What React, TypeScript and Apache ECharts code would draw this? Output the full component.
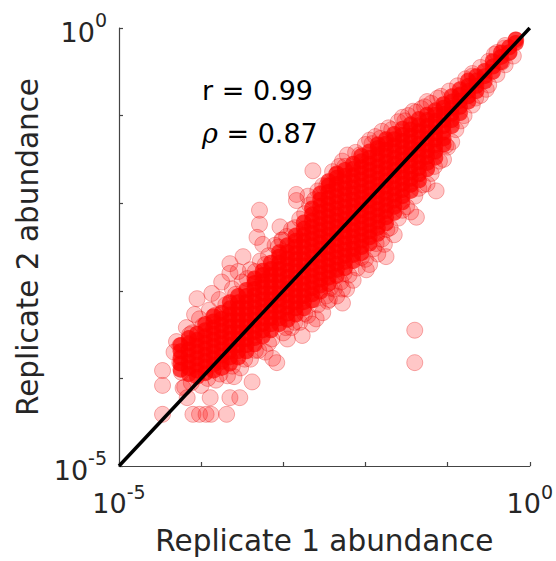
import React, { useEffect, useRef } from "react";
import * as echarts from "echarts";

// Axis range (abundances) and decade tick labels
const axisMin = 1e-5;
const axisMax = 1;
const labeledExponents = [-5, 0];

// Statistics printed in the plot
const pearsonR = "0.99";
const spearmanRho = "0.87";

// Dense core of the cloud as log10 values:
// one Replicate-1 position per column, with the Replicate-2 values in that column
const coreRep1Log: number[] = [
  -4.25, -4.15, -4.05, -3.95, -3.85, -3.75, -3.65, -3.55, -3.45, -3.35, -3.25, -3.15, -3.05, -2.95,
  -2.85, -2.75, -2.65, -2.55, -2.45, -2.35, -2.25, -2.15, -2.05, -1.95, -1.85, -1.75, -1.65, -1.55,
  -1.45, -1.35, -1.25, -1.15, -1.05, -0.95, -0.85, -0.75, -0.65, -0.55, -0.45, -0.35, -0.25, -0.17,
];
const coreRep2Log: number[][] = [
  [-3.9, -3.83, -3.76, -3.69, -3.62],
  [-3.95, -3.88, -3.81, -3.74, -3.67, -3.6, -3.54],
  [-3.98, -3.91, -3.84, -3.77, -3.7, -3.63, -3.56, -3.49],
  [-3.94, -3.87, -3.8, -3.73, -3.66, -3.59, -3.52, -3.45, -3.38],
  [-3.91, -3.84, -3.77, -3.7, -3.63, -3.56, -3.49, -3.42, -3.35, -3.29],
  [-3.88, -3.81, -3.74, -3.67, -3.6, -3.53, -3.46, -3.39, -3.32, -3.25],
  [-3.83, -3.76, -3.69, -3.62, -3.55, -3.48, -3.41, -3.34, -3.27, -3.2, -3.13],
  [-3.76, -3.69, -3.62, -3.55, -3.48, -3.41, -3.34, -3.27, -3.2, -3.13, -3.06],
  [-3.69, -3.62, -3.55, -3.48, -3.41, -3.34, -3.27, -3.2, -3.13, -3.06, -2.99],
  [-3.61, -3.54, -3.47, -3.4, -3.33, -3.26, -3.19, -3.12, -3.05, -2.98, -2.91, -2.86],
  [-3.52, -3.45, -3.38, -3.31, -3.24, -3.17, -3.1, -3.03, -2.96, -2.89, -2.82, -2.77],
  [-3.45, -3.38, -3.31, -3.24, -3.17, -3.1, -3.03, -2.96, -2.89, -2.82, -2.75, -2.68],
  [-3.38, -3.31, -3.24, -3.17, -3.1, -3.03, -2.96, -2.89, -2.82, -2.75, -2.68, -2.61, -2.56],
  [-3.33, -3.26, -3.19, -3.12, -3.05, -2.98, -2.91, -2.84, -2.77, -2.7, -2.63, -2.56, -2.48],
  [-3.27, -3.2, -3.13, -3.06, -2.99, -2.92, -2.85, -2.78, -2.71, -2.64, -2.57, -2.5, -2.43, -2.37],
  [-3.2, -3.13, -3.06, -2.99, -2.92, -2.85, -2.78, -2.71, -2.64, -2.57, -2.5, -2.43, -2.36, -2.29, -2.22],
  [-3.11, -3.04, -2.97, -2.9, -2.83, -2.76, -2.69, -2.62, -2.55, -2.48, -2.41, -2.34, -2.27, -2.2, -2.13, -2.06],
  [-3.01, -2.94, -2.87, -2.8, -2.73, -2.66, -2.59, -2.52, -2.45, -2.38, -2.31, -2.24, -2.17, -2.1, -2.03, -1.96, -1.89],
  [-2.92, -2.85, -2.78, -2.71, -2.64, -2.57, -2.5, -2.43, -2.36, -2.29, -2.22, -2.15, -2.08, -2.01, -1.94, -1.87, -1.8, -1.75],
  [-2.83, -2.76, -2.69, -2.62, -2.55, -2.48, -2.41, -2.34, -2.27, -2.2, -2.13, -2.06, -1.99, -1.92, -1.85, -1.78, -1.71, -1.66],
  [-2.74, -2.67, -2.6, -2.53, -2.46, -2.39, -2.32, -2.25, -2.18, -2.11, -2.04, -1.97, -1.9, -1.83, -1.76, -1.69, -1.62],
  [-2.66, -2.59, -2.52, -2.45, -2.38, -2.31, -2.24, -2.17, -2.1, -2.03, -1.96, -1.89, -1.82, -1.75, -1.68, -1.61, -1.55],
  [-2.57, -2.5, -2.43, -2.36, -2.29, -2.22, -2.15, -2.08, -2.01, -1.94, -1.87, -1.8, -1.73, -1.66, -1.59, -1.52, -1.46],
  [-2.46, -2.39, -2.32, -2.25, -2.18, -2.11, -2.04, -1.97, -1.9, -1.83, -1.76, -1.69, -1.62, -1.55, -1.48, -1.41],
  [-2.35, -2.28, -2.21, -2.14, -2.07, -2.0, -1.93, -1.86, -1.79, -1.72, -1.65, -1.58, -1.51, -1.44, -1.37, -1.33],
  [-2.23, -2.16, -2.09, -2.02, -1.95, -1.88, -1.81, -1.74, -1.67, -1.6, -1.53, -1.46, -1.39, -1.32, -1.27],
  [-2.11, -2.04, -1.97, -1.9, -1.83, -1.76, -1.69, -1.62, -1.55, -1.48, -1.41, -1.34, -1.27, -1.21],
  [-1.99, -1.92, -1.85, -1.78, -1.71, -1.64, -1.57, -1.5, -1.43, -1.36, -1.29, -1.22, -1.15],
  [-1.86, -1.79, -1.72, -1.65, -1.58, -1.51, -1.44, -1.37, -1.3, -1.23, -1.16, -1.1],
  [-1.74, -1.67, -1.6, -1.53, -1.46, -1.39, -1.32, -1.25, -1.18, -1.11, -1.04],
  [-1.61, -1.54, -1.47, -1.4, -1.33, -1.26, -1.19, -1.12, -1.05, -0.99],
  [-1.48, -1.41, -1.34, -1.27, -1.2, -1.13, -1.06, -0.99, -0.94],
  [-1.33, -1.26, -1.19, -1.12, -1.05, -0.98, -0.91, -0.87],
  [-1.12, -1.05, -0.98, -0.91, -0.84, -0.78],
  [-0.97, -0.9, -0.83, -0.76, -0.7],
  [-0.84, -0.78, -0.72, -0.66, -0.6],
  [-0.72, -0.66, -0.6, -0.55],
  [-0.61, -0.55, -0.49],
  [-0.5, -0.44, -0.38],
  [-0.39, -0.33, -0.28],
  [-0.28, -0.22],
  [-0.17, -0.13],
];

// Sparse points around the core and outliers, log10 values
const edgeRep1Log: number[] = [
  -4.47, -4.47, -4.47, -4.24, -4.22, -4.17, -4.26, -4.1, -4.02, -3.94, -3.88, -3.69, -3.89, -3.65, -3.53, -3.38,
  -4.05, -3.87, -4.08, -3.65, -3.49, -3.65, -3.29, -3.29, -3.32, -3.25, -3.04, -2.84, -3.01, -2.64, -2.84,
  -2.6, -2.77, -2.46, -2.44, -2.28, -2.28, -3.13, -3.08, -2.23, -1.99, -1.77, -1.75, -1.38, -1.14, -1.4, -1.4,
  -4.11, -4.26,
  -4.3, -4.18, -4.02, -3.9, -3.78, -3.62, -3.5, -3.4, -3.28, -3.18, -3.02, -2.9, -2.8, -2.68, -2.52, -2.4,
  -2.28, -2.12, -2.0, -1.88, -1.72, -1.6, -1.48, -1.32, -1.2, -1.08, -0.98, -0.88, -0.78, -0.7, -0.6, -0.5, -0.4, -0.3,
  -4.2, -4.0, -3.82, -3.68, -3.52, -3.4, -3.3, -3.18, -3.0, -2.9, -2.8, -2.7, -2.58, -2.48, -2.38, -2.3, -2.2,
  -2.1, -2.0, -1.9, -1.8, -1.7, -1.6, -1.5, -1.4, -1.3, -1.2, -1.1, -1.0, -0.9, -0.8, -0.7, -0.6, -0.5, -0.4, -0.3, -0.2,
  -0.7, -0.53, -0.34, -0.25, -0.17, -0.43, -0.31, -0.86,
  -3.75, -3.55, -3.1, -2.7, -2.58, -2.32, -2.22, -1.95, -1.8, -1.55, -1.42, -1.25,
  -3.6, -3.22, -2.95, -2.65, -2.52, -2.35, -2.15, -1.95, -1.85, -1.65, -1.45, -1.25, -1.05, -0.95,
  -4.33, -4.14, -3.98, -3.83, -3.7, -3.58, -3.44, -3.34, -3.22, -3.06, -2.96, -2.86, -2.74, -2.62, -2.47,
  -2.36, -2.25, -2.07, -1.92, -1.82, -1.68, -1.52, -1.38, -1.28, -1.12,
  -4.12, -3.92, -3.77, -3.62, -3.47, -3.34, -3.14, -2.97, -2.86, -2.74, -2.63, -2.43, -2.26, -2.05, -1.87,
  -1.74, -1.55, -1.35, -1.16, -1.02, -0.84, -0.66,
];
const edgeRep2Log: number[] = [
  -3.91, -4.08, -4.41, -3.93, -4.11, -4.22, -3.63, -4.41, -4.41, -4.41, -4.41, -4.41, -4.22, -4.22, -4.22, -4.04,
  -3.09, -3.03, -3.27, -2.69, -2.61, -2.8, -2.08, -2.24, -2.39, -2.47, -2.27, -1.97, -2.42, -1.63, -1.9,
  -3.32, -3.51, -3.12, -3.1, -2.98, -3.14, -3.77, -3.82, -2.98, -2.76, -2.47, -2.61, -2.16, -1.86, -3.45, -3.82,
  -3.48, -3.82,
  -3.58, -3.42, -3.32, -3.22, -3.1, -2.98, -2.9, -2.76, -2.66, -2.6, -2.42, -2.3, -2.18, -2.02, -1.8, -1.64,
  -1.52, -1.42, -1.33, -1.24, -1.14, -1.07, -1.0, -0.92, -0.86, -0.78, -0.72, -0.66, -0.58, -0.52, -0.45, -0.38, -0.28, -0.2,
  -4.1, -4.08, -4.02, -3.97, -3.88, -3.78, -3.68, -3.6, -3.48, -3.42, -3.36, -3.28, -3.16, -3.06, -2.98, -2.9, -2.82,
  -2.74, -2.64, -2.52, -2.41, -2.28, -2.17, -2.04, -1.92, -1.79, -1.66, -1.52, -1.36, -1.16, -1.0, -0.88, -0.77, -0.65, -0.53, -0.42, -0.32,
  -0.55, -0.7, -0.39, -0.28, -0.14, -0.3, -0.23, -0.78,
  -2.9, -2.78, -2.48, -1.92, -1.86, -1.58, -1.45, -1.28, -1.18, -1.02, -0.95, -0.84,
  -3.98, -3.7, -3.55, -3.38, -3.25, -3.06, -2.88, -2.7, -2.58, -2.36, -2.1, -1.78, -1.5, -1.3,
  -3.7, -3.5, -3.4, -3.28, -3.16, -3.04, -2.86, -2.78, -2.7, -2.5, -2.38, -2.28, -2.12, -1.96, -1.8,
  -1.68, -1.58, -1.45, -1.32, -1.26, -1.16, -1.06, -0.96, -0.9, -0.8,
  -4.05, -4.0, -3.95, -3.86, -3.78, -3.68, -3.55, -3.42, -3.36, -3.26, -3.1, -2.97, -2.8, -2.62, -2.46,
  -2.3, -2.08, -1.83, -1.58, -1.34, -1.06, -0.8,
];

const FONT = '"DejaVu Sans", "Noto Sans", sans-serif';
const AXIS_COLOR = "#262626";

export default function App() {
  const ref = useRef<HTMLDivElement>(null);

  useEffect(() => {
    if (!ref.current) return;
    const chart = echarts.init(ref.current, undefined, { renderer: "svg" });

    const toValue = (e: number) => Math.pow(10, e);
    const coreData: number[][] = [];
    coreRep1Log.forEach((u, i) => {
      coreRep2Log[i].forEach((v) => coreData.push([toValue(u), toValue(v)]));
    });
    const edgeData = edgeRep1Log.map((u, i) => [toValue(u), toValue(edgeRep2Log[i])]);

    const labelFormatter = (val: number) => {
      const e = Math.round(Math.log10(val));
      if (labeledExponents.includes(e)) return `{b|10}{s|${e}}`;
      return "";
    };
    const rich = {
      b: { fontSize: 27, fontFamily: FONT, color: AXIS_COLOR, padding: [8, 0, 0, 0], verticalAlign: "bottom" },
      s: { fontSize: 19, fontFamily: FONT, color: AXIS_COLOR, verticalAlign: "top" },
    };
    const commonAxis = {
      type: "log",
      logBase: 10,
      min: axisMin,
      max: axisMax,
      splitNumber: 5,
      axisLine: { show: true, lineStyle: { color: "#444", width: 1.2 } },
      axisTick: { show: true, inside: true, length: 4, lineStyle: { color: "#444", width: 1.2 } },
      splitLine: { show: false },
      minorTick: { show: false },
      nameLocation: "middle",
      nameTextStyle: { fontSize: 29.5, fontFamily: FONT, color: AXIS_COLOR },
    };

    chart.setOption({
      animation: false,
      backgroundColor: "#ffffff",
      grid: { left: 119, top: 28, width: 412, height: 444, containLabel: false },
      xAxis: {
        ...commonAxis,
        name: "Replicate 1 abundance",
        nameGap: 60,
        axisLabel: { formatter: labelFormatter, rich, margin: 16, showMinLabel: true, showMaxLabel: true },
      },
      yAxis: {
        ...commonAxis,
        name: "Replicate 2 abundance",
        nameGap: 76,
        axisLabel: { formatter: labelFormatter, rich, margin: 12, showMinLabel: true, showMaxLabel: true },
      },
      series: [
        {
          type: "scatter",
          data: edgeData,
          symbol: "circle",
          symbolSize: 16,
          itemStyle: { color: "rgba(255,0,0,0.22)", borderColor: "rgba(230,0,0,0.3)", borderWidth: 1, opacity: 1 },
          z: 2,
        },
        {
          type: "scatter",
          data: coreData,
          symbol: "circle",
          symbolSize: 16,
          itemStyle: { color: "#ff0000", borderWidth: 0, opacity: 0.7 },
          z: 3,
        },
        {
          type: "line",
          data: [
            [axisMin, axisMin],
            [axisMax, axisMax],
          ],
          symbol: "none",
          lineStyle: { color: "#000000", width: 3.5 },
          z: 5,
        },
      ],
      graphic: [
        {
          type: "text",
          x: 202,
          y: 90.5,
          z: 10,
          style: { text: `r = ${pearsonR}`, fontSize: 27, fontFamily: FONT, fill: "#000", verticalAlign: "middle" },
        },
        {
          type: "text",
          x: 202,
          y: 133.5,
          z: 10,
          style: {
            text: `{i|ρ} = ${spearmanRho}`,
            fontSize: 27,
            fontFamily: FONT,
            fill: "#000",
            verticalAlign: "middle",
            rich: { i: { fontSize: 27, fontFamily: '"DejaVu Serif", serif', fontStyle: "italic", fill: "#000" } },
          },
        },
      ],
    });

    return () => chart.dispose();
  }, []);

  return <div ref={ref} style={{ position: "fixed", left: 0, top: 0, width: 556, height: 561, background: "#fff" }} />;
}
